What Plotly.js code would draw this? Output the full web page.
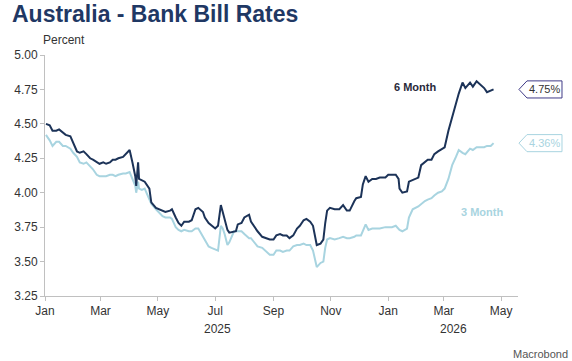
<!DOCTYPE html>
<html>
<head>
<meta charset="utf-8">
<script src="https://cdn.plot.ly/plotly-3.0.1.min.js"></script>
<style>html,body{margin:0;padding:0;background:#fff;}#chart{width:572px;height:361px;}</style>
</head>
<body>
<div id="chart"></div>
<script>
const dates = ["2025-01-02","2025-01-06","2025-01-09","2025-01-13","2025-01-16","2025-01-20","2025-01-23","2025-01-28","2025-01-31",
"2025-02-04","2025-02-07","2025-02-11","2025-02-14","2025-02-18","2025-02-21","2025-02-25","2025-02-28",
"2025-03-04","2025-03-07","2025-03-11","2025-03-14","2025-03-17","2025-03-20","2025-03-25","2025-03-28",
"2025-04-01","2025-04-04","2025-04-07","2025-04-08","2025-04-10","2025-04-11","2025-04-14","2025-04-17","2025-04-22","2025-04-24","2025-04-29",
"2025-05-02","2025-05-06","2025-05-09","2025-05-14","2025-05-16","2025-05-20","2025-05-23","2025-05-26","2025-05-29",
"2025-06-03","2025-06-06","2025-06-10","2025-06-13","2025-06-18","2025-06-20","2025-06-24","2025-06-27",
"2025-07-01","2025-07-04","2025-07-07","2025-07-09","2025-07-11","2025-07-14","2025-07-16","2025-07-21","2025-07-23","2025-07-25","2025-07-29",
"2025-08-01","2025-08-06","2025-08-08","2025-08-13","2025-08-15","2025-08-20","2025-08-25","2025-08-28",
"2025-09-01","2025-09-04","2025-09-08","2025-09-11","2025-09-15","2025-09-18","2025-09-22","2025-09-26","2025-09-29",
"2025-10-03","2025-10-06","2025-10-10","2025-10-13","2025-10-15","2025-10-17","2025-10-21","2025-10-24","2025-10-26","2025-10-28","2025-10-31",
"2025-11-05","2025-11-10","2025-11-14","2025-11-18","2025-11-21","2025-11-26","2025-11-28",
"2025-12-03","2025-12-05","2025-12-08","2025-12-11","2025-12-15","2025-12-19","2025-12-23","2025-12-29",
"2026-01-01","2026-01-05","2026-01-09","2026-01-12","2026-01-13","2026-01-16","2026-01-21","2026-01-23","2026-01-27",
"2026-02-02","2026-02-05","2026-02-09","2026-02-12","2026-02-16","2026-02-19","2026-02-23","2026-02-27",
"2026-03-02","2026-03-06","2026-03-10","2026-03-14","2026-03-17","2026-03-21","2026-03-24","2026-03-29",
"2026-04-01","2026-04-05","2026-04-08","2026-04-13","2026-04-16","2026-04-20","2026-04-23"];

const sixMonth = [4.50,4.49,4.45,4.45,4.46,4.44,4.42,4.41,4.36,
4.30,4.29,4.30,4.28,4.25,4.24,4.22,4.21,
4.22,4.21,4.22,4.24,4.24,4.25,4.26,4.28,
4.31,4.22,4.12,4.05,4.22,4.10,4.09,4.08,4.03,3.93,3.89,
3.88,3.87,3.86,3.87,3.88,3.82,3.78,3.76,3.79,
3.79,3.80,3.88,3.89,3.86,3.82,3.78,3.76,
3.74,3.76,3.91,3.86,3.80,3.73,3.71,3.72,3.72,3.77,3.78,
3.82,3.84,3.79,3.74,3.72,3.68,3.67,3.66,
3.66,3.69,3.70,3.69,3.69,3.67,3.69,3.74,3.76,
3.80,3.81,3.79,3.76,3.70,3.62,3.63,3.66,3.78,3.87,3.89,
3.88,3.88,3.91,3.87,3.87,3.94,3.96,
3.97,4.06,4.12,4.08,4.10,4.10,4.11,4.11,
4.13,4.13,4.13,4.10,4.03,4.00,4.01,4.08,4.09,
4.11,4.20,4.22,4.24,4.24,4.28,4.30,4.32,
4.33,4.45,4.55,4.65,4.72,4.80,4.76,4.80,
4.77,4.81,4.79,4.76,4.73,4.74,4.75];

const threeMonth = [4.42,4.38,4.34,4.37,4.37,4.34,4.34,4.32,4.29,
4.26,4.22,4.21,4.22,4.19,4.17,4.13,4.12,
4.12,4.12,4.13,4.13,4.12,4.13,4.14,4.14,
4.15,4.10,4.05,4.00,4.08,4.03,4.02,4.03,3.96,3.92,3.88,
3.86,3.83,3.82,3.82,3.81,3.75,3.73,3.72,3.73,
3.72,3.72,3.74,3.74,3.68,3.65,3.61,3.60,
3.59,3.58,3.76,3.74,3.70,3.62,3.64,3.72,3.72,3.72,3.72,
3.70,3.67,3.67,3.63,3.61,3.60,3.57,3.55,
3.55,3.58,3.58,3.57,3.58,3.58,3.61,3.62,3.62,
3.63,3.62,3.62,3.58,3.52,3.46,3.49,3.50,3.60,3.66,3.67,
3.66,3.67,3.68,3.67,3.67,3.68,3.69,
3.69,3.72,3.77,3.73,3.74,3.74,3.74,3.75,
3.75,3.75,3.76,3.74,3.73,3.72,3.74,3.82,3.88,
3.90,3.92,3.94,3.95,3.96,3.98,4.00,4.01,
4.03,4.10,4.20,4.26,4.31,4.29,4.28,4.32,
4.31,4.33,4.33,4.33,4.34,4.34,4.36];

const monthTicks = ["2025-01-01","2025-03-01","2025-05-01","2025-07-01","2025-09-01","2025-11-01","2026-01-01","2026-03-01","2026-05-01"];
const monthLabels = ["Jan","Mar","May","Jul","Sep","Nov","Jan","Mar","May"];
const yearLabels = ["2025","2026"];
const yearPositions = ["2025-07-03","2026-03-11"];
const yTicks = [3.25,3.50,3.75,4.00,4.25,4.50,4.75,5.00];

const navy = "#1c3358";
const light = "#a8d4e0";

const last6 = sixMonth[sixMonth.length-1];
const last3 = threeMonth[threeMonth.length-1];

function tagPath(v){
  const tip = 1.002, left = 1.019, right = 1.093, h = 0.062;
  return `M ${tip} ${v} L ${left} ${v+h} L ${right} ${v+h} L ${right} ${v-h} L ${left} ${v-h} Z`;
}

const traces = [
  {x: dates, y: threeMonth, type: "scatter", mode: "lines", name: "3 Month",
   line: {color: light, width: 2}},
  {x: dates, y: sixMonth, type: "scatter", mode: "lines", name: "6 Month",
   line: {color: navy, width: 2}}
];

const annotations = [
  {xref: "paper", yref: "paper", x: 0.04, y: 1.062, xanchor: "center", yanchor: "middle",
   text: "Percent", showarrow: false, font: {size: 12, color: "#333"}},
  {xref: "x", yref: "y", x: "2026-01-29", y: 4.768, xanchor: "center", text: "<b>6 Month</b>", showarrow: false,
   font: {size: 11, color: "#2a2a3a"}},
  {xref: "x", yref: "y", x: "2026-04-11", y: 3.86, xanchor: "center", text: "<b>3 Month</b>", showarrow: false,
   font: {size: 11, color: light}},
  {xref: "paper", yref: "y", x: 1.057, y: last6, xanchor: "center", yanchor: "middle", text: last6.toFixed(2) + "%", showarrow: false,
   font: {size: 11, color: "#333"}},
  {xref: "paper", yref: "y", x: 1.057, y: last3, xanchor: "center", yanchor: "middle", text: last3.toFixed(2) + "%", showarrow: false,
   font: {size: 11, color: light}},
  {xref: "paper", yref: "paper", x: 1.11, y: -0.24, xanchor: "right", yanchor: "middle",
   text: "Macrobond", showarrow: false, font: {size: 11, color: "#555"}}
];
yearLabels.forEach((t, i) => annotations.push({
  xref: "x", yref: "paper", x: yearPositions[i], y: 0, xanchor: "center", yanchor: "top", yshift: -24,
  text: t, showarrow: false, font: {size: 12, color: "#333"}
}));

const layout = {
  width: 572, height: 361,
  margin: {l: 45, r: 54, t: 55, b: 65},
  paper_bgcolor: "#fff", plot_bgcolor: "#fff",
  font: {family: "Liberation Sans, Arial, sans-serif", size: 12, color: "#333"},
  title: {text: "<b>Australia - Bank Bill Rates</b>", x: 12/572, xanchor: "left", xref: "container",
          y: 1 - 6/361, yanchor: "top", yref: "container",
          font: {size: 23, color: "#1f3864", family: "Liberation Sans, Arial, sans-serif"}},
  showlegend: false,
  xaxis: {type: "date", range: ["2025-01-01", "2026-05-19"], tickvals: monthTicks, ticktext: monthLabels,
          showgrid: false, zeroline: false, showline: true, linecolor: "#c0c0c0", linewidth: 1,
          ticks: "outside", ticklen: 4, tickcolor: "#c0c0c0", tickfont: {size: 12, color: "#333"}},
  yaxis: {range: [3.25, 5.0], tickvals: yTicks, tickformat: ".2f",
          showgrid: false, zeroline: false, showline: true, linecolor: "#c0c0c0", linewidth: 1,
          ticks: "outside", ticklen: 4, tickcolor: "#c0c0c0", tickfont: {size: 12, color: "#333"}},
  annotations: annotations,
  shapes: [
    {type: "path", xref: "paper", yref: "y", path: tagPath(last6), line: {color: "#3f3a87", width: 1}, fillcolor: "#fff"},
    {type: "path", xref: "paper", yref: "y", path: tagPath(last3), line: {color: light, width: 1}, fillcolor: "#fff"}
  ]
};

Plotly.newPlot("chart", traces, layout, {staticPlot: true, displayModeBar: false});
</script>
</body>
</html>
